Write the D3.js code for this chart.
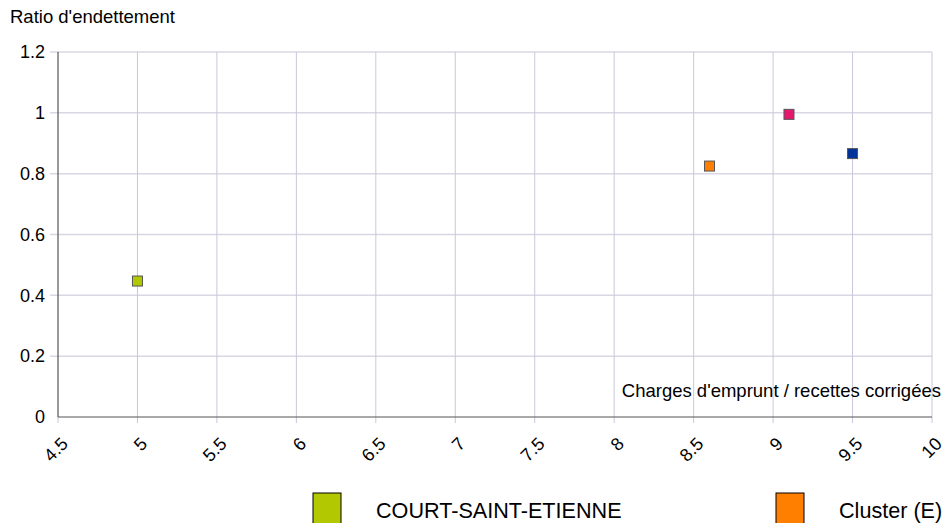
<!DOCTYPE html>
<meta charset="utf-8">
<script src="https://d3js.org/d3.v7.min.js"></script>
<style>
  body { margin: 0; background: #fff; }
  text { font-family: "Liberation Sans", Arial, sans-serif; fill: #000; }
</style>
<div id="chart"></div>
<script>

// data
var seriesNames = ["COURT-SAINT-ETIENNE", "Cluster (E)", "", ""];
var seriesColors = ["#b2c800", "#ff7f00", "#e6176e", "#003399"];
var chargesValues = [5.0, 8.6, 9.1, 9.5];
var ratioValues = [0.447, 0.825, 0.995, 0.866];
var xTicks = [4.5, 5, 5.5, 6, 6.5, 7, 7.5, 8, 8.5, 9, 9.5, 10];
var yTicks = [0, 0.2, 0.4, 0.6, 0.8, 1, 1.2];
var legendShown = [0, 1];

var width = 945, height = 523;
var margin = {top: 52, right: 13, bottom: 106, left: 58};

var svg = d3.select("#chart").append("svg")
  .attr("width", width)
  .attr("height", height);

var x = d3.scaleLinear().domain([4.5, 10]).range([margin.left, width - margin.right]);
var y = d3.scaleLinear().domain([0, 1.2]).range([height - margin.bottom, margin.top]);

// horizontal grid
svg.append("g").selectAll("line")
  .data(yTicks)
  .join("line")
    .attr("x1", margin.left - 8)
    .attr("x2", x(10))
    .attr("y1", function(d) { return y(d); })
    .attr("y2", function(d) { return y(d); })
    .attr("stroke", function(d) { return d === 0 ? "none" : "#d8d8e4"; })
    .attr("stroke-width", 1.5);

// vertical grid
svg.append("g").selectAll("line")
  .data(xTicks)
  .join("line")
    .attr("x1", function(d) { return x(d); })
    .attr("x2", function(d) { return x(d); })
    .attr("y1", function(d) { return d === 4.5 ? y(0) : y(1.2); })
    .attr("y2", y(0) + 6)
    .attr("stroke", "#c8c8dc")
    .attr("stroke-width", 1);

// axis lines
svg.append("line")
  .attr("x1", x(4.5)).attr("x2", x(10))
  .attr("y1", y(0)).attr("y2", y(0))
  .attr("stroke", "#555").attr("stroke-width", 1.2);
svg.append("line")
  .attr("x1", x(4.5)).attr("x2", x(4.5))
  .attr("y1", y(0)).attr("y2", y(1.2))
  .attr("stroke", "#555").attr("stroke-width", 1.2);

// y tick labels
svg.append("g").selectAll("text")
  .data(yTicks)
  .join("text")
    .attr("x", margin.left - 13)
    .attr("y", function(d) { return y(d); })
    .attr("dy", "0.35em")
    .attr("text-anchor", "end")
    .style("font-size", "18px")
    .text(function(d) { return d; });

// x tick labels, rotated
svg.append("g").selectAll("text")
  .data(xTicks)
  .join("text")
    .attr("transform", function(d) { return "translate(" + (x(d) + 11) + "," + (y(0) + 28) + ") rotate(-45)"; })
    .attr("text-anchor", "end")
    .style("font-size", "18px")
    .text(function(d) { return d; });

// axis titles
svg.append("text")
  .attr("x", 10).attr("y", 23)
  .style("font-size", "18.5px")
  .text("Ratio d'endettement");

svg.append("text")
  .attr("x", 941).attr("y", 397)
  .attr("text-anchor", "end")
  .style("font-size", "18.5px")
  .text("Charges d'emprunt / recettes corrigées");

// points
svg.append("g").selectAll("rect")
  .data(d3.range(chargesValues.length))
  .join("rect")
    .attr("x", function(i) { return x(chargesValues[i]) - 5; })
    .attr("y", function(i) { return y(ratioValues[i]) - 5; })
    .attr("width", 10)
    .attr("height", 10)
    .attr("fill", function(i) { return seriesColors[i]; })
    .attr("stroke", "#555")
    .attr("stroke-width", 1);

// legend
var legendX = [313, 776];
var legend = svg.append("g").selectAll("g")
  .data(legendShown)
  .join("g")
    .attr("transform", function(i, k) { return "translate(" + legendX[k] + ",493)"; });
legend.append("rect")
  .attr("width", 28).attr("height", 34)
  .attr("fill", function(i) { return seriesColors[i]; })
  .attr("stroke", "#000").attr("stroke-width", 1);
legend.append("text")
  .attr("x", 63).attr("y", 25)
  .style("font-size", "21.6px")
  .text(function(i) { return seriesNames[i]; });

</script>
